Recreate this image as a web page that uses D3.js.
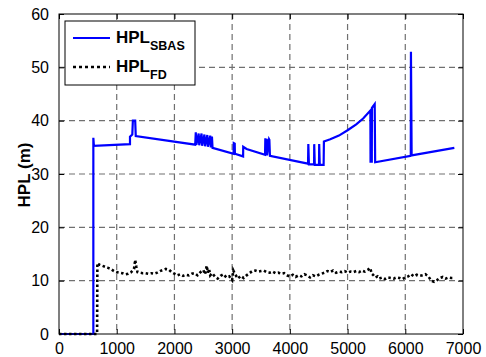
<!DOCTYPE html>
<html>
<head>
<meta charset="utf-8">
<script src="https://cdn.jsdelivr.net/npm/d3@7"></script>
<style>
  body { margin: 0; background: #fff; }
  text { font-family: "Liberation Sans", Arial, sans-serif; }
</style>
</head>
<body>
<script>
// tick values
let xTicks = [0, 1000, 2000, 3000, 4000, 5000, 6000, 7000];
let yTicks = [0, 10, 20, 30, 40, 50, 60];

// HPL SBAS (blue solid)
let sbasX = [0, 595, 595, 605, 1230, 1230, 1270, 1280, 1320, 1330,
	2360, 2370, 2380, 2420, 2430, 2470, 2480, 2520, 2530, 2570, 2580, 2620, 2630, 2650, 2660,
	3025, 3028, 3045, 3048, 3190, 3192, 3250,
	3570, 3575, 3585, 3600, 3605, 3640, 3645, 3655,
	4290, 4315, 4320, 4330, 4420, 4422, 4432, 4505, 4508, 4518, 4585, 4590,
	4700, 4850, 5000, 5150, 5270, 5395, 5398, 5420, 5422, 5470, 5478, 6095, 6098, 6110, 6850];
let sbasY = [0, 0, 36.8, 35.3, 35.6, 37.0, 37.4, 40.0, 40.0, 37.1,
	35.5, 37.8, 35.5, 37.6, 35.4, 37.6, 35.3, 37.4, 35.2, 37.3, 35.1, 37.2, 35.0, 37.0, 34.9,
	33.8, 35.8, 35.7, 33.8, 33.3, 35.1, 34.7,
	33.6, 36.7, 33.6, 36.6, 33.5, 36.5, 36.4, 33.4,
	32.0, 31.9, 35.6, 31.8, 31.8, 35.6, 31.7, 31.7, 35.6, 31.7, 31.7, 36.1,
	36.5, 37.2, 38.2, 39.3, 40.4, 41.9, 32.3, 32.3, 42.4, 43.1, 32.2, 33.4, 52.9, 33.5, 34.9];

// HPL FD (black dotted)
let fdX = [0, 660, 665, 700, 750, 800, 850, 900, 950, 1000, 1050, 1100, 1150, 1200, 1250, 1300, 1320, 1340, 1360,
	1400, 1450, 1500, 1550, 1600, 1650, 1700, 1750, 1800, 1850, 1900, 1950, 2000, 2050, 2100, 2150, 2200, 2250,
	2300, 2350, 2400, 2450, 2500, 2530, 2560, 2580, 2600, 2620, 2650, 2700, 2750, 2800, 2850, 2900, 2950, 3000,
	3020, 3050, 3100, 3150, 3200, 3250, 3300, 3350, 3400, 3450, 3500, 3550, 3600, 3650, 3700, 3750, 3800, 3850,
	3900, 3950, 4000, 4050, 4100, 4150, 4200, 4250, 4300, 4350, 4400, 4450, 4500, 4550, 4600, 4650, 4700, 4750,
	4800, 4850, 4900, 4950, 5000, 5050, 5100, 5150, 5200, 5250, 5300, 5350, 5390, 5420, 5450, 5480, 5520, 5550,
	5600, 5650, 5700, 5750, 5800, 5850, 5900, 5950, 6000, 6050, 6100, 6150, 6200, 6250, 6300, 6350, 6400, 6450,
	6500, 6550, 6600, 6650, 6700, 6750, 6800, 6830];
let fdY = [0, 0, 13.3, 13.0, 12.8, 12.6, 12.4, 12.2, 11.8, 11.6, 11.5, 11.4, 11.2, 11.3, 11.6, 12.2, 13.9, 12.6, 11.6,
	11.5, 11.4, 11.4, 11.3, 11.4, 11.3, 11.5, 11.8, 12.0, 12.2, 12.1, 11.6, 11.3, 11.0, 11.2, 10.9, 11.1, 11.0,
	11.3, 11.4, 11.0, 11.6, 12.0, 11.2, 12.8, 11.5, 12.2, 11.0, 11.4, 10.8, 10.4, 10.9, 11.2, 10.6, 10.8, 10.1,
	11.9, 11.2, 10.4, 10.9, 10.5, 11.0, 11.4, 11.8, 11.9, 11.7, 11.8, 11.9, 11.6, 11.5, 11.7, 11.4, 11.5, 11.3,
	11.4, 11.0, 10.8, 11.1, 10.7, 11.0, 10.8, 11.2, 11.0, 10.6, 11.0, 10.8, 11.1, 11.3, 11.5, 11.8, 11.6, 11.9,
	11.5, 11.7, 11.6, 11.8, 11.5, 11.7, 11.6, 11.8, 11.6, 11.9, 11.7, 12.0, 12.4, 11.3, 11.0, 10.6, 10.8, 10.4,
	10.6, 10.3, 10.6, 10.5, 10.4, 10.6, 10.5, 10.3, 10.6, 10.8, 11.2, 10.8, 11.1, 10.9, 11.0, 11.2, 10.8, 10.0,
	9.8, 10.1, 10.5, 10.7, 10.4, 10.6, 10.5, 10.5];

let margin = {left: 59, top: 14, right: 23, bottom: 23};
let W = 486, H = 357;
let w = W - margin.left - margin.right;
let h = H - margin.top - margin.bottom;

let svg = d3.select('body').append('svg')
	.attr('width', W)
	.attr('height', H);

let x = d3.scaleLinear().domain([0, 7000]).range([0, w]);
let y = d3.scaleLinear().domain([0, 60]).range([h, 0]);

let g = svg.append('g')
	.attr('transform', 'translate(' + margin.left + ',' + margin.top + ')');

//grid
g.append('g').selectAll('line')
	.data(xTicks.slice(1, -1))
	.enter().append('line')
	.attr('x1', d => x(d)).attr('x2', d => x(d))
	.attr('y1', 0).attr('y2', h)
	.attr('stroke', '#707070')
	.attr('stroke-width', 1.2)
	.attr('stroke-dasharray', '6,4');

g.append('g').selectAll('line')
	.data(yTicks.slice(1, -1))
	.enter().append('line')
	.attr('y1', d => y(d)).attr('y2', d => y(d))
	.attr('x1', 0).attr('x2', w)
	.attr('stroke', '#707070')
	.attr('stroke-width', 1.2)
	.attr('stroke-dasharray', '6,4');

//axes, ticks pointing inward on all four sides
let xAxis = g.append('g')
	.attr('transform', 'translate(0,' + h + ')')
	.call(d3.axisBottom(x).tickValues(xTicks).tickFormat(d3.format('d')).tickSizeInner(-5).tickSizeOuter(0).tickPadding(9));
let xTop = g.append('g')
	.call(d3.axisTop(x).tickValues(xTicks).tickSizeInner(-5).tickSizeOuter(0).tickFormat(''));
let yAxis = g.append('g')
	.call(d3.axisLeft(y).tickValues(yTicks).tickSizeInner(-5).tickSizeOuter(0).tickPadding(10));
let yRight = g.append('g')
	.attr('transform', 'translate(' + w + ',0)')
	.call(d3.axisRight(y).tickValues(yTicks).tickSizeInner(-5).tickSizeOuter(0).tickFormat(''));

[xAxis, xTop, yAxis, yRight].forEach(function(a) {
	a.select('.domain').remove();
	a.selectAll('line').attr('stroke', '#000');
	a.selectAll('text')
		.attr('fill', '#000')
		.style('font-size', '16px')
		.style('font-family', '"Liberation Sans", Arial, sans-serif');
});

//lines
let sbas = sbasX.map((d, i) => [d, sbasY[i]]);
let fd = fdX.map((d, i) => [d, fdY[i]]);
let line = d3.line().x(d => x(d[0])).y(d => y(d[1]));

g.append('path')
	.datum(sbas)
	.attr('d', line)
	.attr('fill', 'none')
	.attr('stroke', '#0000ff')
	.attr('stroke-width', 2.2);

g.append('path')
	.datum(fd)
	.attr('d', line)
	.attr('fill', 'none')
	.attr('stroke', '#000')
	.attr('stroke-width', 2.6)
	.attr('stroke-dasharray', '2.5,2.5');

//box
g.append('rect')
	.attr('width', w).attr('height', h)
	.attr('fill', 'none')
	.attr('stroke', '#000')
	.attr('stroke-width', 1);

//y label
svg.append('text')
	.attr('transform', 'translate(29.5,175) rotate(-90)')
	.attr('text-anchor', 'middle')
	.attr('font-size', '17px')
	.attr('font-weight', 'bold')
	.text('HPL (m)');

//legend
let legend = svg.append('g');
legend.append('rect')
	.attr('x', 65).attr('y', 21)
	.attr('width', 130).attr('height', 64)
	.attr('fill', '#fff')
	.attr('stroke', '#000')
	.attr('stroke-width', 1);

let items = [
	{name: 'HPL', sub: 'SBAS', color: '#0000ff', dash: null, yy: 38},
	{name: 'HPL', sub: 'FD', color: '#000', dash: '3,3', yy: 67}
];

items.forEach(function(d) {
	legend.append('line')
		.attr('x1', 73).attr('x2', 110)
		.attr('y1', d.yy).attr('y2', d.yy)
		.attr('stroke', d.color)
		.attr('stroke-width', d.dash ? 2.6 : 2.2)
		.attr('stroke-dasharray', d.dash);
	let t = legend.append('text')
		.attr('x', 116).attr('y', d.yy + 5)
		.attr('font-size', '17px')
		.attr('font-weight', 'bold');
	t.append('tspan').text(d.name);
	t.append('tspan')
		.attr('dy', 7)
		.attr('font-size', '12.5px')
		.text(d.sub);
});
</script>
</body>
</html>
